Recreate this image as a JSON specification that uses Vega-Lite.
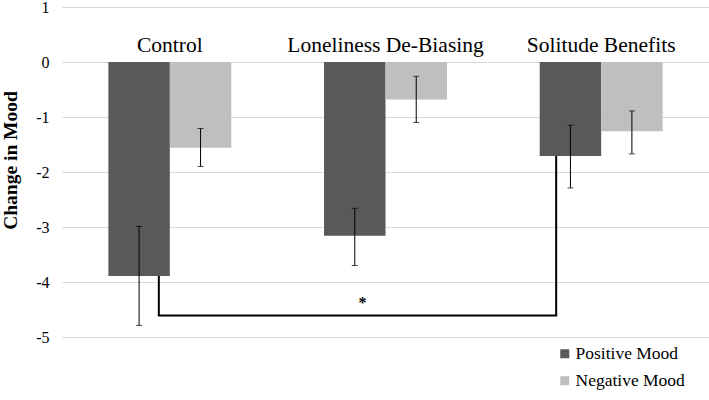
{
  "$schema": "https://vega.github.io/schema/vega-lite/v6.json",
  "width": 647,
  "height": 330,
  "autosize": "none",
  "padding": {"left": 62, "top": 7, "right": 0, "bottom": 63},
  "background": "white",
  "config": {"view": {"stroke": null}, "font": "Liberation Serif"},
  "datasets": {
    "main": [
      {"group": "Control", "series": "Positive Mood", "value": -3.89, "lo": -4.79, "hi": -2.99},
      {"group": "Control", "series": "Negative Mood", "value": -1.56, "lo": -1.9, "hi": -1.21},
      {"group": "Loneliness De-Biasing", "series": "Positive Mood", "value": -3.16, "lo": -3.7, "hi": -2.66},
      {"group": "Loneliness De-Biasing", "series": "Negative Mood", "value": -0.68, "lo": -1.1, "hi": -0.26},
      {"group": "Solitude Benefits", "series": "Positive Mood", "value": -1.71, "lo": -2.29, "hi": -1.15},
      {"group": "Solitude Benefits", "series": "Negative Mood", "value": -1.26, "lo": -1.67, "hi": -0.89}
    ],
    "labels": [
      {"group": "Control", "y": 0.19},
      {"group": "Loneliness De-Biasing", "y": 0.19},
      {"group": "Solitude Benefits", "y": 0.19}
    ],
    "bracketLeft": [{"group": "Control", "y": -3.89, "y2": -4.61}],
    "bracketRight": [{"group": "Solitude Benefits", "y": -1.71, "y2": -4.61}],
    "bracketH": [{"from": "Control", "to": "Solitude Benefits", "y": -4.61}],
    "star": [{"group": "Loneliness De-Biasing", "y": -4.33, "label": "*"}]
  },
  "encoding": {
    "x": {
      "field": "group", "type": "nominal",
      "scale": {"domain": ["Control", "Loneliness De-Biasing", "Solitude Benefits"], "paddingInner": 0.43, "paddingOuter": 0.215},
      "axis": null
    }
  },
  "layer": [
    {
      "data": {"name": "main"},
      "mark": {"type": "bar"},
      "encoding": {
        "xOffset": {"field": "series", "type": "nominal", "scale": {"domain": ["Positive Mood", "Negative Mood"], "paddingInner": 0, "paddingOuter": 0}},
        "y": {
          "field": "value", "type": "quantitative",
          "scale": {"domain": [-5, 1], "nice": false, "zero": false},
          "axis": {
            "title": "Change in Mood",
            "titleFont": "Liberation Serif", "titleFontSize": 19.5, "titleFontWeight": "bold", "titleColor": "black",
            "titleX": -42, "titleY": 153,
            "values": [-5, -4, -3, -2, -1, 0, 1],
            "labelExpr": "'' + datum.value",
            "grid": true, "gridColor": "#D9D9D9", "gridWidth": 1,
            "domain": false, "ticks": false,
            "labelFont": "Liberation Serif", "labelFontSize": 16, "labelColor": "black", "labelPadding": 13
          }
        },
        "y2": {"datum": 0},
        "color": {
          "field": "series", "type": "nominal",
          "scale": {"domain": ["Positive Mood", "Negative Mood"], "range": ["#595959", "#BFBFBF"]},
          "legend": {
            "title": null, "orient": "none", "legendX": 494, "legendY": 338,
            "symbolType": "square", "symbolSize": 81, "symbolStrokeWidth": 0,
            "labelFont": "Liberation Serif", "labelFontSize": 17.5, "labelColor": "black",
            "rowPadding": 8, "labelOffset": 2, "padding": 0
          }
        }
      }
    },
    {
      "data": {"name": "main"},
      "mark": {"type": "rule", "color": "black", "strokeWidth": 1},
      "encoding": {
        "xOffset": {"field": "series", "type": "nominal", "scale": {"domain": ["Positive Mood", "Negative Mood"], "paddingInner": 0, "paddingOuter": 0}},
        "y": {"field": "lo", "type": "quantitative"},
        "y2": {"field": "hi"}
      }
    },
    {
      "data": {"name": "main"},
      "mark": {"type": "tick", "color": "black", "orient": "horizontal", "size": 6, "thickness": 1},
      "encoding": {
        "xOffset": {"field": "series", "type": "nominal", "scale": {"domain": ["Positive Mood", "Negative Mood"], "paddingInner": 0, "paddingOuter": 0}},
        "y": {"field": "lo", "type": "quantitative"}
      }
    },
    {
      "data": {"name": "main"},
      "mark": {"type": "tick", "color": "black", "orient": "horizontal", "size": 6, "thickness": 1},
      "encoding": {
        "xOffset": {"field": "series", "type": "nominal", "scale": {"domain": ["Positive Mood", "Negative Mood"], "paddingInner": 0, "paddingOuter": 0}},
        "y": {"field": "hi", "type": "quantitative"}
      }
    },
    {
      "data": {"name": "bracketLeft"},
      "mark": {"type": "rule", "color": "black", "strokeWidth": 2, "xOffset": -11},
      "encoding": {
        "y": {"field": "y", "type": "quantitative"},
        "y2": {"field": "y2"}
      }
    },
    {
      "data": {"name": "bracketRight"},
      "mark": {"type": "rule", "color": "black", "strokeWidth": 2, "xOffset": -45},
      "encoding": {
        "y": {"field": "y", "type": "quantitative"},
        "y2": {"field": "y2"}
      }
    },
    {
      "data": {"name": "bracketH"},
      "mark": {"type": "rule", "color": "black", "strokeWidth": 2, "xOffset": -12, "x2Offset": -44},
      "encoding": {
        "x": {"field": "from", "type": "nominal"},
        "x2": {"field": "to"},
        "y": {"field": "y", "type": "quantitative"}
      }
    },
    {
      "data": {"name": "star"},
      "mark": {"type": "text", "font": "Liberation Serif", "fontSize": 16, "fontWeight": "bold", "color": "black", "dx": -23, "baseline": "middle", "dy": 3},
      "encoding": {
        "y": {"field": "y", "type": "quantitative"},
        "text": {"field": "label"}
      }
    },
    {
      "data": {"name": "labels"},
      "mark": {"type": "text", "font": "Liberation Serif", "fontSize": 21.5, "color": "black", "baseline": "alphabetic"},
      "encoding": {
        "y": {"field": "y", "type": "quantitative"},
        "text": {"field": "group"}
      }
    }
  ]
}
